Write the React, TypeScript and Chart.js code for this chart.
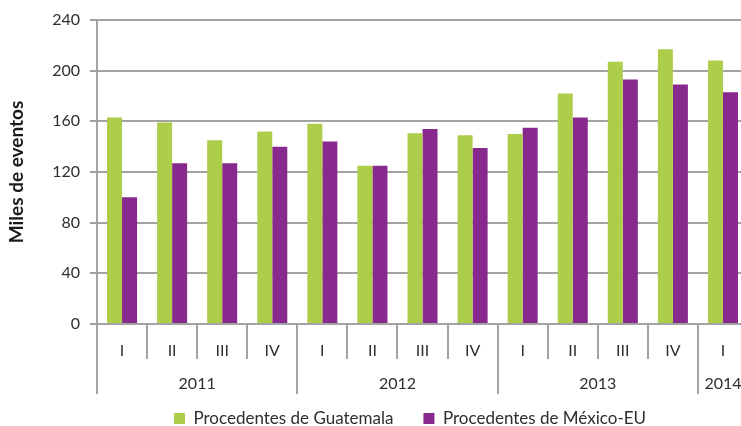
import React, { useEffect, useRef } from "react";
import { Chart, registerables } from "chart.js";

Chart.register(...registerables);

const quarterLabels = ["I", "II", "III", "IV", "I", "II", "III", "IV", "I", "II", "III", "IV", "I"];
const yearLabels = ["2011", "2012", "2013", "2014"];
const yearSpans = [4, 4, 4, 1];
const guatemala = [163, 159, 145, 152, 158, 125, 150.5, 149, 150, 182, 207, 217, 208];
const mexicoEU = [100, 127, 127, 140, 144, 125, 154, 139, 155, 163, 193, 189, 183];
const seriesNames = ["Procedentes de Guatemala", "Procedentes de México-EU"];
const yTicks = [0, 40, 80, 120, 160, 200, 240];

const FONT = "Lato";
const GRAY = "#A3A3A3";
const TEXT = "#2E2E2E";
const LEGEND_CENTER = 410;

const groupPlugin = {
  id: "groupAxis",
  afterLayout(chart: any) {
    const lg = chart.legend;
    if (lg) {
      const d = LEGEND_CENTER - (lg.left + lg.right) / 2;
      lg.left += d;
      lg.right += d;
    }
  },
  afterDraw(chart: any) {
    const xs = chart.scales.x;
    const ctx = chart.ctx;
    const bottom = chart.chartArea.bottom;
    const n = quarterLabels.length;
    const p = (i: number) => xs.getPixelForTick(i);
    const step = n > 1 ? p(1) - p(0) : xs.width;
    const boundary = (i: number) => (i === 0 ? p(0) - step / 2 : i === n ? p(n - 1) + step / 2 : (p(i - 1) + p(i)) / 2);
    const yearStarts = new Set<number>();
    let acc = 0;
    yearSpans.forEach((s) => {
      yearStarts.add(acc);
      acc += s;
    });
    yearStarts.add(acc);
    ctx.save();
    ctx.strokeStyle = GRAY;
    ctx.lineWidth = 2;
    for (let i = 0; i <= n; i++) {
      const x = Math.round(boundary(i));
      const len = yearStarts.has(i) ? 70 : 35;
      ctx.beginPath();
      ctx.moveTo(x, bottom);
      ctx.lineTo(x, bottom + len);
      ctx.stroke();
    }
    ctx.fillStyle = TEXT;
    ctx.font = `16px ${FONT}`;
    ctx.textAlign = "center";
    ctx.textBaseline = "middle";
    let start = 0;
    yearSpans.forEach((s, k) => {
      const cx = (boundary(start) + boundary(start + s)) / 2;
      ctx.fillText(yearLabels[k], cx, bottom + 60);
      start += s;
    });
    ctx.restore();
  },
};

export default function App() {
  const ref = useRef<HTMLCanvasElement>(null);
  useEffect(() => {
    if (!ref.current) return;
    const chart = new Chart(ref.current, {
      type: "bar",
      data: {
        labels: quarterLabels,
        datasets: [
          {
            label: seriesNames[0],
            data: guatemala,
            backgroundColor: "#AECD4A",
            categoryPercentage: 0.6,
            barPercentage: 1,
          },
          {
            label: seriesNames[1],
            data: mexicoEU,
            backgroundColor: "#882A8D",
            categoryPercentage: 0.6,
            barPercentage: 1,
          },
        ],
      },
      options: {
        responsive: false,
        animation: false,
        events: [],
        layout: { padding: { top: 20, right: 12, left: 0, bottom: 0 } },
        plugins: {
          tooltip: { enabled: false },
          legend: {
            position: "bottom",
            labels: {
              boxWidth: 11,
              boxHeight: 11,
              padding: 30,
              color: TEXT,
              font: { family: FONT, size: 17 },
            },
          },
        },
        scales: {
          x: {
            grid: { display: false },
            border: { display: true, color: GRAY, width: 2 },
            ticks: { color: TEXT, font: { family: FONT, size: 16 }, padding: 9, maxRotation: 0, autoSkip: false },
            afterFit(scale: any) {
              scale.height = 56;
            },
          },
          y: {
            min: 0,
            max: 240,
            afterBuildTicks(scale: any) {
              scale.ticks = yTicks.map((v) => ({ value: v }));
            },
            grid: { color: GRAY, lineWidth: 2, tickLength: 7, drawTicks: true },
            border: { display: true, color: GRAY, width: 2 },
            ticks: { color: TEXT, font: { family: FONT, size: 16 }, padding: 10 },
            title: {
              display: true,
              text: "Miles de eventos",
              color: "#1A1A1A",
              font: { family: FONT, size: 19, weight: "bold" },
              padding: { top: 5, bottom: 0 },
            },
            afterFit(scale: any) {
              scale.width = 97;
            },
          },
        },
      },
      plugins: [groupPlugin],
    });
    return () => chart.destroy();
  }, []);
  return (
    <div style={{ position: "fixed", left: 0, top: 0, width: 741, height: 426, overflow: "hidden", background: "#fff" }}>
      <canvas ref={ref} width={760} height={437} style={{ width: 760, height: 437, display: "block" }} />
    </div>
  );
}
